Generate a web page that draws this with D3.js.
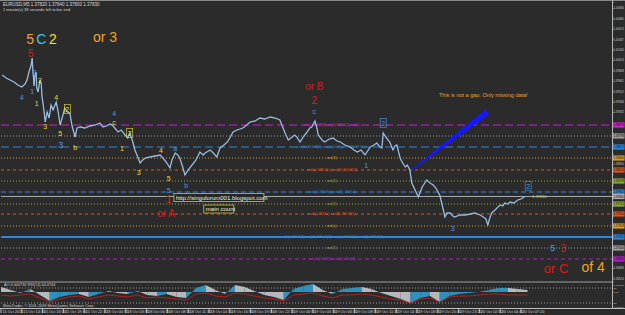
<!DOCTYPE html>
<html>
<head>
<meta charset="utf-8">
<script src="https://cdn.jsdelivr.net/npm/d3@7"></script>
<style>
body { margin: 0; background: #2b2b2b; }
svg { display: block; font-family: "Liberation Sans", Arial, sans-serif; }
</style>
</head>
<body>
<svg id="chart" width="625" height="315"></svg>
<script>
// ---- data (bar index, price) ----
var bars = [2,8,14,20,26,32,37,40,43,46,48,49,51,52,54,55,57,60,62,63,66,68,71,74,77,80,85,88,91,94,98,102,106,109,114,117,122,129,137,145,152,157,162,168,171,175,180,185,191,195,198,202,206,211,214,218,222,229,237,245,249,254,260,263,268,272,275,280,283,288,294,300,306,311,314,322,328,332,337,343,348,352,357,363,368,372,378,383,391,398,406,414,422,429,434,437,442,448,452,455,460,466,471,475,478,483,486,488,494,498,505,511,517,522,529,537,543,548,554,560,565,568,574,578,583,586,588,592,598,603,606,609,614,618,622,625,629,632,637,642,645,648,652,655,660,665,669,675,678,683,686,691,695,698,706,714,722,729,737,742,746,749,752,755,760,763,768,772,775,780,783,789,795,800,806];
var closes = [1.39774,1.39726,1.39694,1.39662,1.39614,1.39582,1.39630,1.39694,1.39822,1.39918,1.40046,1.39854,1.39598,1.39758,1.39822,1.39566,1.39502,1.39694,1.39630,1.39438,1.39214,1.39022,1.39182,1.39086,1.39294,1.39214,1.39342,1.39182,1.38974,1.39086,1.39246,1.39182,1.39166,1.38974,1.38782,1.38926,1.38942,1.38926,1.38958,1.38974,1.39006,1.38942,1.38958,1.38990,1.38974,1.38926,1.38862,1.38894,1.38814,1.38766,1.38846,1.38734,1.38574,1.38446,1.38366,1.38414,1.38446,1.38462,1.38478,1.38494,1.38446,1.38382,1.38286,1.38414,1.38526,1.38494,1.38446,1.38286,1.38174,1.38254,1.38334,1.38414,1.38542,1.38494,1.38526,1.38574,1.38510,1.38462,1.38606,1.38654,1.38702,1.38766,1.38862,1.38894,1.38910,1.38926,1.38974,1.39022,1.39038,1.39086,1.39070,1.39102,1.39086,1.39054,1.38926,1.38846,1.38734,1.38782,1.38814,1.38782,1.38702,1.38798,1.38862,1.38926,1.38942,1.39038,1.38926,1.38814,1.38734,1.38702,1.38750,1.38766,1.38718,1.38702,1.38654,1.38622,1.38574,1.38542,1.38574,1.38494,1.38574,1.38622,1.38654,1.38686,1.38622,1.38606,1.38846,1.38782,1.38702,1.38574,1.38638,1.38654,1.38446,1.38366,1.38302,1.38334,1.38254,1.38046,1.37934,1.37822,1.37902,1.37982,1.38046,1.38094,1.38046,1.38014,1.37966,1.37854,1.37726,1.37502,1.37566,1.37566,1.37518,1.37502,1.37534,1.37534,1.37550,1.37566,1.37534,1.37502,1.37470,1.37374,1.37486,1.37566,1.37614,1.37646,1.37694,1.37678,1.37726,1.37710,1.37742,1.37726,1.37774,1.37790,1.37830];

var priceTicks = [1.40846,1.40680,1.40513,1.40347,1.40180,1.40014,1.39848,1.39681,1.39515,1.39348,1.39182,1.39016,1.38849,1.38683,1.38516,1.38350,1.38184,1.38017,1.37851,1.37684,1.37518,1.37352,1.37185,1.37019,1.36852,1.36686,1.36520];

var timeLabels = ["15 Oct 2010","15 Oct 14:10","15 Oct 16:50","15 Oct 19:30","15 Oct 22:10","18 Oct 00:50","18 Oct 03:30","18 Oct 06:10","18 Oct 08:50","18 Oct 11:30","18 Oct 14:10","18 Oct 16:50","18 Oct 19:30","18 Oct 22:10","19 Oct 00:50","19 Oct 03:30","19 Oct 06:10","19 Oct 08:50","19 Oct 11:30","19 Oct 14:10","19 Oct 18:00","19 Oct 20:40","19 Oct 23:20","20 Oct 02:00","20 Oct 04:40","20 Oct 07:20"];
var barsPerLabel = 32;

// horizontal levels
var levelPrices = [1.38974,1.38798,1.38622,1.38446,1.38254,1.38078,1.37902,1.37830,1.37710,1.37550,1.37358,1.37182,1.37006,1.36830];
var levelNotes = ["ret(c) 61.8(B) ret(4) 38.2(2) ret(b)","","ext(b) 161.8(1) ext(c) 100(a) ret(2) 78.6(c)","ext(3)","ext(a) 138.2(c) ext(3) 161.8(1)","ext(5)","ext(c) 261.8(a) ext(1) 100(a)","","ext(3)","ext(a) 200(c) ext(5) 261.8(1)","ext(c)","ext(b) 423.6(1) ext(C) 161.8(A) ext(a) 161.8(b) ext(3) 423.6(1)","ext(1)","ext(c) 261.8(a) ext(5) 100(1)"];
var levelColors = ["#d020d0","#9a9a9a","#2f86dc","#d8a020","#e0541c","#8aa834","#2f86dc","#a8a8a8","#8aa834","#e0541c","#d8a020","#2f86dc","#9a9a9a","#b020c0"];
var levelDash = ["8,4","1,2","8,4","1,2","3,3","1,2","5,3",null,"1,2","3,3","1,2",null,"1,2","4,3"];
var levelWidth = [1,1,1,1,1,1,1,1,1,1,1,2,1,1];

// wave labels: [text, bar, price, kind]
var waveLabels = [
  ["5",45,1.40350,"bigOrange"],["C",62,1.40350,"bigCyan"],["2",80,1.40350,"bigYellow"],
  ["or 3",160,1.40382,"bigOrange"],["5",46,1.40118,"midRed"],
  ["1",55,1.39326,"y"],["2",60,1.39694,"y"],["3",68,1.38958,"y"],["4",85,1.39422,"y"],["5",91,1.38846,"y"],
  ["2",102,1.39230,"yBox"],["b",114,1.38622,"y"],["c",174,1.39022,"y"],["1",186,1.38606,"y"],["2",198,1.38846,"yBox"],
  ["3",212,1.38222,"y"],["4",246,1.38574,"y"],["5",258,1.38126,"y"],
  ["4",32,1.39422,"b"],["1",48,1.39518,"b"],["2",52,1.39822,"b"],["3",92,1.38654,"bMid"],["4",174,1.39166,"b"],
  ["a",268,1.38606,"b"],["5",258,1.37934,"b"],["b",285,1.38014,"b"],["c",482,1.39198,"b"],["1",562,1.38334,"b"],
  ["2",588,1.39006,"bBox"],["3",695,1.37326,"b"],["2",811,1.37998,"bBox"],["5",849,1.37006,"bMid"],
  ["or B",482,1.39598,"midRed"],["2",482,1.39374,"midRed"],["1",258,1.37790,"midRed"],["or A",254,1.37566,"midRed"],
  ["3",865,1.37006,"midRed"],["or C",854,1.36686,"bigRed"],["of 4",911,1.36702,"bigOrange"]
];
var labelStyle = {
  bigOrange: {c:"#f2a41c", s:14}, bigCyan: {c:"#3cc6e8", s:14}, bigYellow: {c:"#eee040", s:14},
  bigRed: {c:"#d42020", s:13}, midRed: {c:"#d42020", s:10},
  y: {c:"#e6dc3a", s:7}, yBox: {c:"#e6dc3a", s:7}, b: {c:"#4a9ae8", s:7}, bMid: {c:"#4a9ae8", s:9}, bBox: {c:"#4a9ae8", s:7}
};

// oscillator (every 15 bars)
var oscStep = 15;
var aoValues = [0.0005,0.0002,-0.0001,0.0003,-0.0003,-0.0009,-0.0005,-0.0003,-0.0002,-0.0005,-0.0002,0.0001,-0.0001,-0.0002,0.0001,-0.0003,-0.0004,-0.0002,-0.0005,-0.0006,0.0004,0.0007,0.0002,-0.0002,0.0007,0.0005,0.0001,-0.0003,-0.0005,-0.0008,0.0003,0.0006,0.0008,0.0002,-0.0002,0.0003,0.0004,0.0005,0.0003,-0.0001,-0.0004,-0.0007,-0.0011,-0.0006,-0.0004,-0.0010,-0.0004,-0.0002,-0.0001,0.0000,0.0002,0.0004,0.0004,0.0003,0.0002];
var rsiValues = [52,48,52,56,40,24,36,44,48,36,44,52,48,44,52,40,44,40,36,32,56,60,48,44,60,56,48,40,36,28,52,56,60,48,40,52,52,56,52,44,36,32,20,36,40,24,44,48,48,52,56,56,52,52,52];
var oscAxis = [["0.000730", 0.00073], ["0.00", 0], ["-0.00797", -0.00145]];

// ---- drawing ----
var svg = d3.select("#chart");
var x = d3.scaleLinear().domain([0, 940]).range([1, 612]);
var y = d3.scaleLinear().domain([1.36462, 1.40942]).range([282, 2]);
var yAo = d3.scaleLinear().domain([-0.0016, 0.0010]).range([308, 282]);
var yRsi = d3.scaleLinear().domain([0, 100]).range([308, 283]);
var fmt = d3.format(".5f");

svg.append("rect").attr("width", 625).attr("height", 315).attr("fill", "#2b2b2b");

// header
svg.append("text").attr("x", 3).attr("y", 6).attr("font-size", 4.5).attr("fill", "#d8d8d8")
  .text("EURUSD,M5  1.37820 1.37840 1.37800 1.37830");
svg.append("text").attr("x", 3).attr("y", 11).attr("font-size", 4).attr("fill", "#d8d8d8")
  .text("1 minute(s) 38 seconds left to bar end");

// levels
var lv = svg.append("g");
levelPrices.forEach(function (p, i) {
  lv.append("line").attr("x1", 1).attr("x2", 612).attr("y1", y(p)).attr("y2", y(p))
    .attr("stroke", levelColors[i]).attr("stroke-width", levelWidth[i])
    .attr("stroke-dasharray", levelDash[i]);
  if (levelNotes[i])
    lv.append("text").attr("x", x(509)).attr("y", y(p) + 1.4).attr("text-anchor", "middle")
      .attr("font-size", 3.8).attr("fill", levelColors[i]).text(levelNotes[i]);
});

// price line
var line = d3.line()
  .x(function (d, i) { return x(bars[i]); })
  .y(function (d) { return y(d); });
svg.append("path").datum(closes).attr("d", line)
  .attr("fill", "none").attr("stroke", "#86acd8").attr("stroke-width", 1.3);
svg.append("path").datum(closes).attr("d", line)
  .attr("fill", "none").attr("stroke", "#d8e2ee").attr("stroke-width", 0.4).attr("opacity", 0.7);

// blue arrow (wedge)
var a0 = [x(632), y(1.38254)], a1 = [x(748), y(1.39182)];
var dx = a1[0] - a0[0], dy = a1[1] - a0[1], len = Math.sqrt(dx * dx + dy * dy);
var nx = -dy / len, ny = dx / len;
svg.append("polygon").attr("fill", "#1616ff").attr("points", [
  [a0[0] + nx * 0.5, a0[1] + ny * 0.5], [a1[0] + nx * 3, a1[1] + ny * 3],
  [a1[0] - nx * 3, a1[1] - ny * 3], [a0[0] - nx * 0.5, a0[1] - ny * 0.5]].join(" "));

svg.append("text").attr("x", x(742)).attr("y", y(1.39422)).attr("text-anchor", "middle")
  .attr("font-size", 5.5).attr("fill", "#e6a030").text("This is not a gap. Only missing data!");

// wave labels
var wl = svg.append("g");
waveLabels.forEach(function (d) {
  var st = labelStyle[d[3]];
  wl.append("text").attr("x", x(d[1])).attr("y", y(d[2]))
    .attr("text-anchor", "middle").attr("dominant-baseline", "central")
    .attr("font-size", st.s).attr("fill", st.c).text(d[0]);
  if (d[3] == "yBox" || d[3] == "bBox")
    wl.append("rect").attr("x", x(d[1]) - 3).attr("y", y(d[2]) - 4.5).attr("width", 6).attr("height", 9)
      .attr("fill", "none").attr("stroke", st.c).attr("stroke-width", 0.6);
});

// boxed notes
function boxNote(txt, bar, price, w) {
  var g = svg.append("g").attr("transform", "translate(" + x(bar) + "," + y(price) + ")");
  g.append("rect").attr("x", 0).attr("y", -4).attr("width", w).attr("height", 8)
    .attr("fill", "#262626").attr("stroke", "#c8c84a").attr("stroke-width", 0.8);
  g.append("text").attr("x", 2).attr("y", 2).attr("font-size", 6).attr("fill", "#f4f4d8").text(txt);
}
boxNote("http://singulorum001.blogspot.com", 266, 1.37814, 90);
boxNote("main count", 312, 1.37630, 30);

// yellow bid tag at end of price
svg.append("text").attr("x", x(817)).attr("y", y(1.37830) + 1.5).attr("font-size", 4)
  .attr("fill", "#d8d040").text("1.37830");

// panels / frame
svg.append("line").attr("x1", 0).attr("x2", 612).attr("y1", 282).attr("y2", 282).attr("stroke", "#a0a0a0");
svg.append("line").attr("x1", 0).attr("x2", 625).attr("y1", 308.5).attr("y2", 308.5).attr("stroke", "#c0c0c0");
svg.append("line").attr("x1", 0).attr("x2", 625).attr("y1", 0.5).attr("y2", 0.5).attr("stroke", "#888");

// price axis: tick labels hidden where a level tag covers them
var freeTicks = priceTicks.filter(function (t) {
  return levelPrices.every(function (p) { return Math.abs(y(p) - y(t)) > 5; });
});
var ax = svg.append("g").attr("transform", "translate(612,0)")
  .call(d3.axisRight(y).tickValues(priceTicks).tickSize(1.5).tickFormat(function (t) {
    return freeTicks.indexOf(t) >= 0 ? fmt(t) : "";
  }));
ax.select(".domain").attr("stroke", "#b8b8b8");
ax.selectAll(".tick line").attr("stroke", "#b8b8b8");
ax.selectAll("text").attr("font-size", 2.9).attr("fill", "#c8c8c8").attr("x", 1.4);
svg.append("line").attr("x1", 612.5).attr("x2", 612.5).attr("y1", 0).attr("y2", 309).attr("stroke", "#b8b8b8");

// level tags on the axis
levelPrices.forEach(function (p, i) {
  svg.append("rect").attr("x", 613).attr("y", y(p) - 2.6).attr("width", 11.5).attr("height", 5.2).attr("fill", levelColors[i]);
  svg.append("text").attr("x", 613.4).attr("y", y(p) + 1.1).attr("font-size", 2.9).attr("fill", "#111").text(fmt(p));
});

// oscillator
var og = svg.append("g");
[80, 20].forEach(function (v) {
  og.append("line").attr("x1", 1).attr("x2", 612).attr("y1", yRsi(v)).attr("y2", yRsi(v))
    .attr("stroke", "#9a9a9a").attr("stroke-dasharray", "1,2");
});
var segArea = d3.area().x(function (d) { return x(d[0]); }).y0(yAo(0)).y1(function (d) { return yAo(d[1]); });
for (var k = 0; k < aoValues.length - 1; k++) {
  var up = aoValues[k + 1] >= aoValues[k];
  og.append("path").datum([[k * oscStep, aoValues[k]], [(k + 1) * oscStep, aoValues[k + 1]]])
    .attr("d", segArea).attr("fill", up ? "#2f9ccc" : "#c4c8cc").attr("opacity", 0.9);
}
og.append("path").datum(rsiValues)
  .attr("d", d3.line().x(function (d, i) { return x(i * oscStep); }).y(function (d) { return yRsi(d); }))
  .attr("fill", "none").attr("stroke", "#d42020").attr("stroke-width", 0.8);
og.append("text").attr("x", 4).attr("y", 286).attr("font-size", 3.8).attr("fill", "#d0d0d0")
  .text("AO 0.000730   RSI(14) 44.4744");
og.append("text").attr("x", 3).attr("y", 307).attr("font-size", 3.8).attr("fill", "#d0d0d0")
  .text("MetaTrader, © 2001-2009 MetaQuotes Software Corp.");
oscAxis.forEach(function (d) {
  og.append("text").attr("x", 613.5).attr("y", yAo(d[1]) + 1).attr("font-size", 2.5).attr("fill", "#c8c8c8").text(d[0]);
});
[80, 20].forEach(function (v) {
  og.append("text").attr("x", 613.5).attr("y", yRsi(v) + 1).attr("font-size", 2.5).attr("fill", "#c8c8c8").text(v);
});

// time axis
var tx = svg.append("g");
timeLabels.forEach(function (t, i) {
  var px = x(i * barsPerLabel);
  tx.append("line").attr("x1", px).attr("x2", px).attr("y1", 308.5).attr("y2", 313).attr("stroke", "#c0c0c0");
  tx.append("text").attr("x", px + 1.5).attr("y", 313).attr("font-size", 3.8).attr("fill", "#d0d0d0").text(t);
});
</script>
</body>
</html>
